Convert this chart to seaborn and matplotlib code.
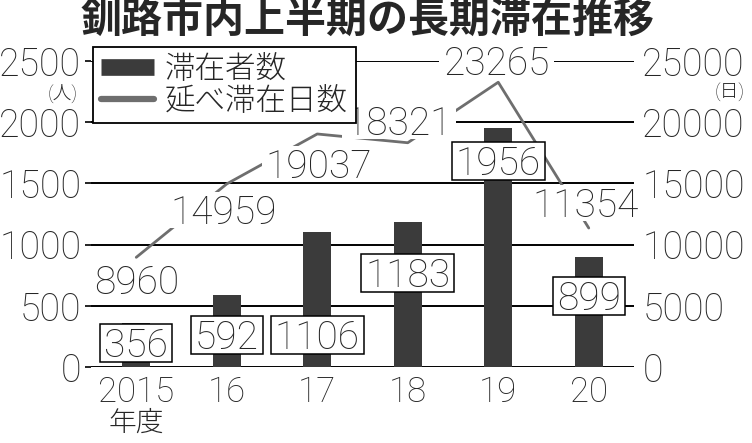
import numpy as np
import pandas as pd
import matplotlib.pyplot as plt
import seaborn as sns
from matplotlib.lines import Line2D
from matplotlib.path import Path

# Data
years = ['2015', '16', '17', '18', '19', '20']
visitors = [356, 592, 1106, 1183, 1956, 899]          # 滞在者数 (人)
stay_days = [8960, 14959, 19037, 18321, 23265, 11354]  # 延べ滞在日数 (日)

# Where the value labels sit (category offset, axis units)
visitor_label_y = [172, 237, 237, 744, 1659, 556]
days_label_pos = [(0, 6850), (-0.03, 12580), (0.02, 16330),
                  (-0.1, 19800), (-0.02, 24750), (-0.04, 13150)]

sns.set_theme(style='white')
plt.rcParams['font.family'] = ['Roboto', 'Noto Sans CJK JP']
plt.rcParams['font.weight'] = 'light'

bar_color = '#3b3b3b'
line_color = '#6e6e6e'


def digit_box(pad_x, pad_y):
    # rectangle hugging the digits (no room for descenders)
    def box(x0, y0, width, height, mutation_size):
        yb = y0 + 0.213 * height - pad_y
        yt = y0 + 0.959 * height + pad_y
        xl, xr = x0 - pad_x, x0 + width + pad_x
        verts = [(xl, yb), (xr, yb), (xr, yt), (xl, yt), (xl, yb)]
        codes = [Path.MOVETO, Path.LINETO, Path.LINETO, Path.LINETO, Path.CLOSEPOLY]
        return Path(verts, codes)
    return box


df = pd.DataFrame({'year': years, 'visitors': visitors, 'days': stay_days})

fig = plt.figure(figsize=(7.52, 4.43), dpi=100)
ax = fig.add_axes([91 / 752, 1 - 367 / 443, (634 - 91) / 752, (367 - 61) / 443])

# gridlines (left axis scale)
left_ticks = list(range(0, 2501, 500))
for t in left_ticks:
    ax.axhline(t, color='black', lw=1.4, zorder=1)

sns.barplot(data=df, x='year', y='visitors', color=bar_color, width=0.31,
            saturation=1, linewidth=0, ax=ax, zorder=2)
ax.set_xlim(-0.5, 5.5)
ax.set_ylim(0, 2500)
ax.set_yticks(left_ticks)
ax.set_xlabel('')
ax.set_ylabel('')
for s in ax.spines.values():
    s.set_visible(False)
ax.tick_params(axis='y', left=True, length=4, width=1.2, color='black',
               direction='out', pad=3, labelsize=27)
ax.tick_params(axis='x', bottom=False, length=0, pad=6, labelsize=25)

# line on right axis
ax2 = ax.twinx()
sns.lineplot(x=np.arange(len(years)), y=stay_days, ax=ax2, color=line_color,
             lw=2, zorder=3)
ax2.set_ylim(0, 25000)
ax2.set_yticks(range(0, 25001, 5000))
ax2.set_ylabel('')
for s in ax2.spines.values():
    s.set_visible(False)
ax2.tick_params(axis='y', right=True, length=0, pad=6, labelsize=27)

# labels for stay days (white background hides line and grid)
for i, (dx, y) in enumerate(days_label_pos):
    ax2.text(i + dx, y, f'{stay_days[i]}', ha='center', va='center', fontsize=28,
             zorder=5, bbox=dict(boxstyle=digit_box(4, 4), fc='white', ec='none'))

# boxed labels for visitors, kept above the line
for i, y in enumerate(visitor_label_y):
    ax2.text(i, y * 10, f'{visitors[i]}', ha='center', va='center', fontsize=28,
             zorder=6,
             bbox=dict(boxstyle=digit_box(4, 5), fc='white', ec='black', lw=1.1))

handles = [Line2D([0], [0], color=bar_color, lw=12, solid_capstyle='butt'),
           Line2D([0], [0], color=line_color, lw=4.5, solid_capstyle='round')]
leg = ax2.legend(handles, ['滞在者数', '延べ滞在日数'], loc='upper left',
                 bbox_to_anchor=(0.004, 1.046), borderaxespad=0, fontsize=22,
                 frameon=True, fancybox=False, framealpha=1, handlelength=1.75,
                 handletextpad=0.35, labelspacing=0.1, borderpad=0.25)
leg.get_frame().set_edgecolor('black')
leg.get_frame().set_linewidth(1.3)
leg.set_zorder(10)

ax.text(0, -0.183, '年度', transform=ax.get_xaxis_transform(), ha='center',
        va='center', fontsize=20)
fig.text(63 / 752, 1 - 93 / 443, '(人)', ha='center', va='center', fontsize=13.5)
fig.text(730 / 752, 1 - 93 / 443, '(日)', ha='center', va='center', fontsize=13.5)
fig.text(0.489, 1 - 20 / 443, '釧路市内上半期の長期滞在推移', ha='center',
         va='center', fontsize=29.5, fontweight='bold')

fig.savefig('out.png', dpi=100)
